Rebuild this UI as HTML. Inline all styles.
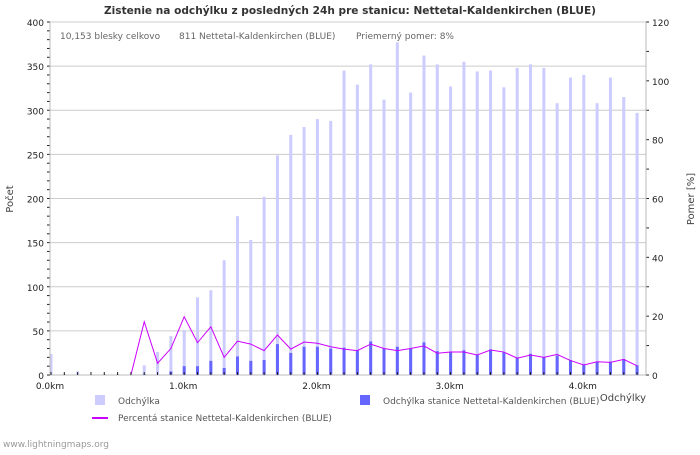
<!DOCTYPE html>
<html><head><meta charset="utf-8"><style>
body{margin:0;background:#fff;width:700px;height:450px;overflow:hidden}
svg text{font-family:"DejaVu Sans","Liberation Sans",sans-serif}
</style></head><body>
<svg id="c" width="700" height="450" xmlns="http://www.w3.org/2000/svg">
<text x="350" y="14" text-anchor="middle" font-size="11" font-weight="bold" fill="#333" textLength="492" lengthAdjust="spacingAndGlyphs">Zistenie na odchýlku z posledných 24h pre stanicu: Nettetal-Kaldenkirchen (BLUE)</text>
<g id="grid"></g><g id="bars"></g><g id="axes"></g>
<text x="60" y="39" font-size="9" fill="#666">10,153 blesky celkovo</text>
<text x="179" y="39" font-size="9" fill="#666">811 Nettetal-Kaldenkirchen (BLUE)</text>
<text x="356" y="39" font-size="9" fill="#666">Priemerný pomer: 8%</text>
<text transform="translate(13,199) rotate(-90)" text-anchor="middle" font-size="10" fill="#444">Počet</text>
<text transform="translate(694,199) rotate(-90)" text-anchor="middle" font-size="10" fill="#444">Pomer [%]</text>
<text x="646" y="401" text-anchor="end" font-size="10" fill="#444">Odchýlky</text>
<rect x="95" y="395" width="10" height="10" fill="#ccccff"/>
<text x="118" y="404" font-size="9" fill="#555">Odchýlka</text>
<rect x="360" y="395" width="10" height="10" fill="#6666ff"/>
<text x="383" y="404" font-size="9" fill="#555">Odchýlka stanice Nettetal-Kaldenkirchen (BLUE)</text>
<line x1="92" y1="418" x2="108" y2="418" stroke="#cc00ff" stroke-width="2"/>
<text x="118" y="421" font-size="9" fill="#555">Percentá stanice Nettetal-Kaldenkirchen (BLUE)</text>
<text x="3" y="447" font-size="9" fill="#999">www.lightningmaps.org</text>
</svg>
<script>
const totals=[24,1,4,0,1,1,1,11,26,44,51,88,96,130,180,153,202,249,272,281,290,288,345,329,352,312,377,320,362,352,327,355,344,345,326,348,352,348,308,337,340,308,337,315,297];
const station=[0,0,0,0,0,0,0,1,0,4,10,10,16,8,21,16,17,35,25,32,32,30,31,28,38,30,32,30,37,27,26,28,23,29,26,20,24,20,22,17,12,15,15,18,11];
const ratio=[null,null,null,null,null,null,0,18.1,4,9,19.8,11,16.4,6,11.5,10.5,8.3,13.6,8.8,11.2,10.8,9.6,8.8,8.3,10.5,9,8.3,9,9.9,7.4,7.8,7.8,6.8,8.5,7.8,5.7,6.8,6,7,4.9,3.4,4.5,4.3,5.3,3.1];
const leftTicks=[0,50,100,150,200,250,300,350,400];
const rightTicks=[0,20,40,60,80,100,120];
const xTickLabels=["0.0km","1.0km","2.0km","3.0km","4.0km"];
const xTickKm=[0,1,2,3,4];
const NS="http://www.w3.org/2000/svg";
const L=50,R=646,T=22,B=375,KM=133.2,STEP=0.1;
const yL=v=>B-(v/400)*(B-T);
const yR=v=>B-(v/120)*(B-T);
const xK=k=>L+1+k*KM;
function mk(tag,attrs,parent){const e=document.createElementNS(NS,tag);for(const k in attrs)e.setAttribute(k,attrs[k]);document.getElementById(parent).appendChild(e);return e;}
leftTicks.forEach(v=>{
 const g=mk('line',{x1:L,x2:R,y1:yL(v),y2:yL(v),stroke:'#ccc','stroke-width':1},'grid');
 
 
 const t=mk('text',{x:L-6,y:yL(v)+4,'text-anchor':'end','font-size':9,fill:'#222'},'axes');t.textContent=v;
 
 
});
for(let v=0;v<=400;v+=10){mk('line',{x1:L-3,x2:L,y1:yL(v),y2:yL(v),stroke:'#222'},'axes');}
rightTicks.forEach(v=>{
 const t=mk('text',{x:R+6,y:yR(v)+4,'font-size':9,fill:'#222'},'axes');t.textContent=v;
 
 
});
for(let v=0;v<=120;v+=10){mk('line',{x1:R,x2:R+3,y1:yR(v),y2:yR(v),stroke:'#222'},'axes');}
mk('line',{x1:L,x2:L,y1:T,y2:B,stroke:'#bbb'},'axes');
mk('line',{x1:R,x2:R,y1:T,y2:B,stroke:'#bbb'},'axes');
mk('line',{x1:L,x2:R,y1:B,y2:B,stroke:'#bbb'},'axes');
xTickLabels.forEach((s,i)=>{
 const t=mk('text',{x:xK(xTickKm[i])-1,y:B+14,'text-anchor':'middle','font-size':9,fill:'#222'},'axes');t.textContent=s;
 
 
});
totals.forEach((v,i)=>{
 const x=xK(i*STEP);
 mk('line',{x1:x,x2:x,y1:B-3,y2:B,stroke:'#222'},'axes');
 const b=mk('rect',{x:x-1.5,y:yL(v),width:3,height:B-yL(v),fill:'#ccccff'},'bars');
 
 
 const s=mk('rect',{x:x-1.5,y:yL(station[i]),width:3,height:B-yL(station[i]),fill:'#6666ff'},'bars');
 
 
});
let d='';ratio.forEach((v,i)=>{if(v===null)return;d+=(d?'L':'M')+xK(i*STEP)+','+yR(v);});
const p=mk('path',{d:d,fill:'none',stroke:'#cc00ff','stroke-width':1},'bars');


</script>
</body></html>
